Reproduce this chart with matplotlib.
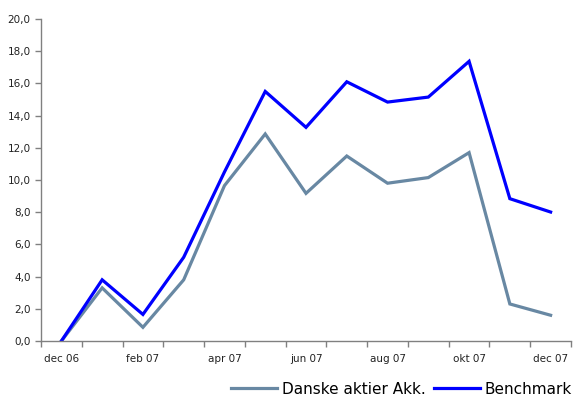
import numpy as np
import matplotlib.pyplot as plt
from matplotlib.ticker import FixedLocator, FuncFormatter

# ------------------------------------------------------------------
# Donnees
# ------------------------------------------------------------------
mois = ["dec 06", "jan 07", "feb 07", "mar 07", "apr 07", "maj 07", "jun 07",
        "jul 07", "aug 07", "sep 07", "okt 07", "nov 07", "dec 07"]
danske = [0.0, 3.3, 0.85, 3.8, 9.65, 12.86, 9.17, 11.49, 9.8, 10.15, 11.7, 2.3, 1.6]
benchmark = [0.0, 3.8, 1.65, 5.2, 10.5, 15.5, 13.27, 16.1, 14.84, 15.15, 17.37, 8.84, 8.01]

gris = "#6888a3"
bleu = "#0000ff"
axe = "#808080"

fig = plt.figure(figsize=(5.83, 4.03), dpi=100)
ax = fig.add_axes([41 / 583, 62 / 403, 530 / 583, 322 / 403])

x = np.arange(len(mois))
ax.plot(x, danske, color=gris, linewidth=2.3, label="Danske aktier Akk.", solid_joinstyle="miter")
ax.plot(x, benchmark, color=bleu, linewidth=2.3, label="Benchmark", solid_joinstyle="miter")

ax.set_xlim(-0.5, len(mois) - 0.5)
ax.set_ylim(0, 20)

ax.set_yticks(np.arange(0, 21, 2))
ax.yaxis.set_major_formatter(FuncFormatter(lambda v, p: f"{v:.1f}".replace(".", ",")))

# ticks entre les categories, etiquettes un mois sur deux
ax.xaxis.set_major_locator(FixedLocator(np.arange(-0.5, len(mois), 1.0)))
ax.xaxis.set_major_formatter(FuncFormatter(lambda v, p: ""))
ax.set_xticks(x[::2], [mois[i] for i in x[::2]], minor=True)
ax.tick_params(axis="x", which="minor", length=0, pad=9)

for s in ["top", "right"]:
    ax.spines[s].set_visible(False)
for s in ["left", "bottom"]:
    ax.spines[s].set_color(axe)
    ax.spines[s].set_linewidth(1.0)

ax.tick_params(axis="both", which="major", direction="out", length=4, color=axe,
               width=1.0, labelsize=7.5, labelcolor="#222222")
ax.tick_params(axis="x", which="minor", labelsize=7.5, labelcolor="#222222")

fig.legend(loc="lower right", bbox_to_anchor=(1.005, -0.018), ncol=2, frameon=False,
           prop={"family": ["Liberation Sans Narrow", "DejaVu Sans"], "size": 11},
           handlelength=3.0, handletextpad=0.3, columnspacing=0.6)

plt.savefig("out.png", dpi=100)
plt.close()
